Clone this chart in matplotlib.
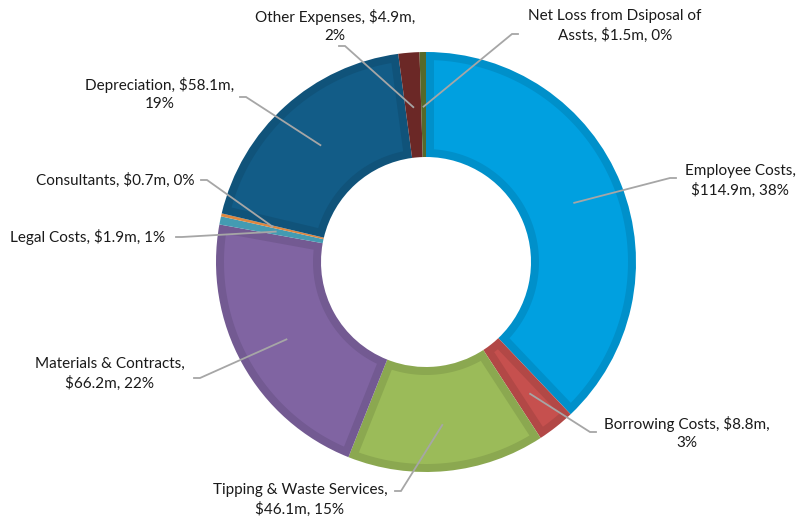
import numpy as np
import matplotlib.pyplot as plt
import matplotlib.colors as mcolors
from matplotlib.patches import Polygon

plt.rcParams['font.family'] = ['Lato', 'DejaVu Sans']

# Expense breakdown ($m), clockwise from 12 o'clock
categories = ['Employee Costs', 'Borrowing Costs', 'Tipping & Waste Services',
              'Materials & Contracts', 'Legal Costs', 'Consultants',
              'Depreciation', 'Other Expenses', 'Net Loss from Dsiposal of Assts']
values = [114.9, 8.8, 46.1, 66.2, 1.9, 0.7, 58.1, 4.9, 1.5]
colors = ['#00A0E0', '#C6504E', '#9BBB59', '#8064A2', '#4BACC6',
          '#F79646', '#125C87', '#772C2A', '#5F7530']

# label text lines (wrapped as in the chart)
labels = [
    'Employee Costs,\n$114.9m, 38%',
    'Borrowing Costs, $8.8m,\n3%',
    'Tipping & Waste Services,\n$46.1m, 15%',
    'Materials & Contracts,\n$66.2m, 22%',
    'Legal Costs, $1.9m, 1%',
    'Consultants, $0.7m, 0%',
    'Depreciation, $58.1m,\n19%',
    'Other Expenses, $4.9m,\n2%',
    'Net Loss from Dsiposal of\nAssts, $1.5m, 0%',
]

# layout in pixels: text centre, leader elbow, leader end radius
W, H = 798, 522
CX, CY, R = 426, 262, 210
text_px = [(740, 181), (687, 433), (300, 500), (110, 374), (88, 237),
           (115, 180), (160, 94), (335, 26), (615, 26)]
elbow_px = [(670, 178), (590, 432), (401, 491), (200, 378), (182, 237),
            (207, 180), (246, 97), (345, 46), (512, 34)]
end_r = [0.76, 0.8, 0.78, 0.76, 0.73, 0.75, 0.75, 0.74, 0.74]
R_IN = 0.5
BEVEL = 8 / R


def to_data(p):
    return ((p[0] - CX) / R, (CY - p[1]) / R)


def inset_poly(t_hi, t_lo, r_in, r_out, b):
    # ring sector shrunk by a constant distance b on every side
    ro, ri = r_out - b, r_in + b
    a_o, a_i = np.arcsin(b / ro), np.arcsin(b / ri)
    if (t_hi - t_lo) <= 2 * a_i:
        return None
    to = np.linspace(t_hi - a_o, t_lo + a_o, 120)
    ti = np.linspace(t_lo + a_i, t_hi - a_i, 60)
    xs = np.concatenate([ro * np.cos(to), ri * np.cos(ti)])
    ys = np.concatenate([ro * np.sin(to), ri * np.sin(ti)])
    return np.column_stack([xs, ys])


fig = plt.figure(figsize=(W / 100, H / 100), dpi=100)
ax = fig.add_axes([0, 0, 1, 1])

# darker base ring, lighter inset face on top of it
dark = [tuple(np.array(mcolors.to_rgb(c)) * 0.9) for c in colors]
wedges, _ = ax.pie(values, colors=dark, startangle=90, counterclock=False,
                   radius=1, wedgeprops=dict(width=1 - R_IN, linewidth=0))

total = sum(values)
ang = 90.0
for i, v in enumerate(values):
    span = 360.0 * v / total
    t_hi, t_lo = np.deg2rad(ang), np.deg2rad(ang - span)
    mid = (t_hi + t_lo) / 2
    ang -= span
    pts = inset_poly(t_hi, t_lo, R_IN, 1.0, BEVEL)
    if pts is not None:
        ax.add_patch(Polygon(pts, closed=True, facecolor=colors[i],
                             edgecolor='none', zorder=2))
    p_end = (end_r[i] * np.cos(mid), end_r[i] * np.sin(mid))
    ex, ey = to_data(elbow_px[i])
    tx, ty = to_data(text_px[i])
    # short horizontal stub towards the label
    sx = ex + (6 / R if tx > ex else -6 / R)
    ax.plot([p_end[0], ex, sx], [p_end[1], ey, ey], color='#A6A6A6', lw=1.3,
            solid_joinstyle='miter', zorder=5)
    ax.text(tx, ty, labels[i], ha='center', va='center', fontsize=11,
            color='#1a1a1a', linespacing=1.35, zorder=6)

ax.set_xlim(-CX / R, (W - CX) / R)
ax.set_ylim(-(H - CY) / R, CY / R)
ax.set_aspect('equal')
ax.axis('off')

fig.savefig('out.png', dpi=100, facecolor='white')
